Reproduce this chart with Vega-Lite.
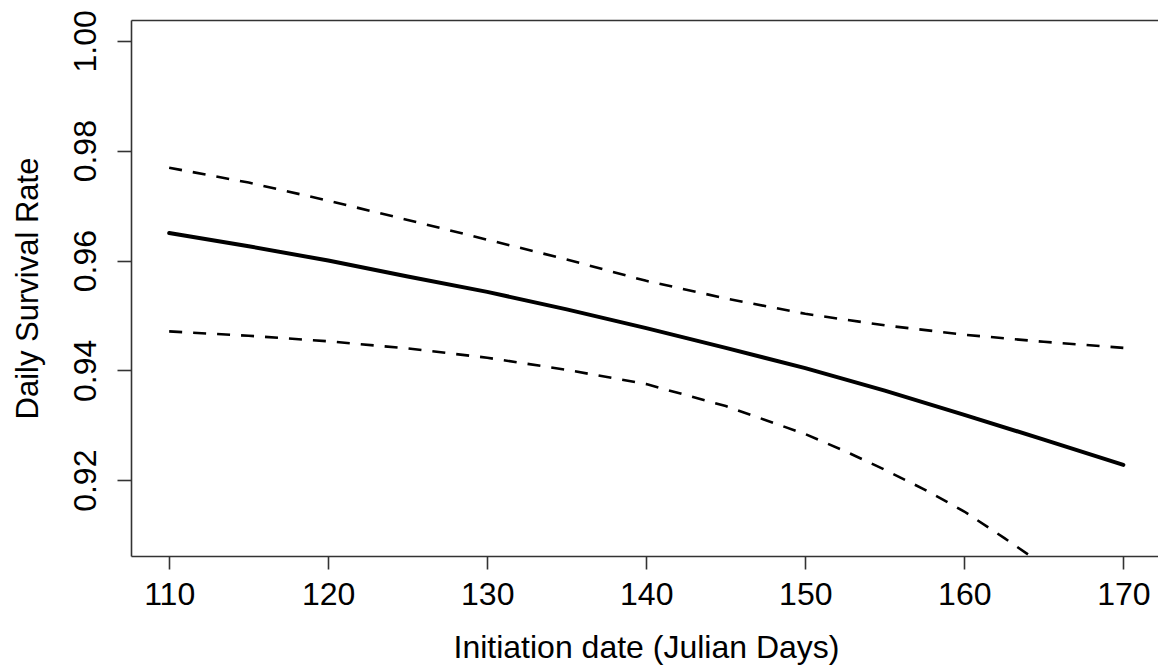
{
  "$schema": "https://vega.github.io/schema/vega-lite/v6.json",
  "width": 1027,
  "height": 536,
  "autosize": "none",
  "padding": {"left": 131, "top": 20, "right": 0, "bottom": 109},
  "background": "white",
  "config": {
    "view": {"stroke": null},
    "font": "Liberation Sans",
    "axis": {
      "domainColor": "#333333",
      "domainWidth": 1.6,
      "tickColor": "#333333",
      "tickWidth": 1.6,
      "labelColor": "black",
      "titleColor": "black",
      "labelFont": "Liberation Sans",
      "titleFont": "Liberation Sans",
      "titleFontWeight": "normal",
      "grid": false,
      "labelFlush": false,
      "labelOverlap": false,
      "labelBound": false
    }
  },
  "data": {
    "values": [
      {"day": 110, "rate": 0.9650, "series": "estimate"},
      {"day": 115, "rate": 0.9626, "series": "estimate"},
      {"day": 120, "rate": 0.9600, "series": "estimate"},
      {"day": 125, "rate": 0.9571, "series": "estimate"},
      {"day": 130, "rate": 0.9543, "series": "estimate"},
      {"day": 135, "rate": 0.9511, "series": "estimate"},
      {"day": 140, "rate": 0.9477, "series": "estimate"},
      {"day": 145, "rate": 0.9441, "series": "estimate"},
      {"day": 150, "rate": 0.9404, "series": "estimate"},
      {"day": 155, "rate": 0.9363, "series": "estimate"},
      {"day": 160, "rate": 0.9319, "series": "estimate"},
      {"day": 165, "rate": 0.9274, "series": "estimate"},
      {"day": 170, "rate": 0.9228, "series": "estimate"},
      {"day": 110, "rate": 0.9769, "series": "upper"},
      {"day": 115, "rate": 0.9742, "series": "upper"},
      {"day": 120, "rate": 0.9709, "series": "upper"},
      {"day": 125, "rate": 0.9674, "series": "upper"},
      {"day": 130, "rate": 0.9638, "series": "upper"},
      {"day": 135, "rate": 0.9602, "series": "upper"},
      {"day": 140, "rate": 0.9563, "series": "upper"},
      {"day": 145, "rate": 0.9531, "series": "upper"},
      {"day": 150, "rate": 0.9503, "series": "upper"},
      {"day": 155, "rate": 0.9482, "series": "upper"},
      {"day": 160, "rate": 0.9465, "series": "upper"},
      {"day": 165, "rate": 0.9452, "series": "upper"},
      {"day": 170, "rate": 0.9441, "series": "upper"},
      {"day": 110, "rate": 0.9471, "series": "lower"},
      {"day": 115, "rate": 0.9463, "series": "lower"},
      {"day": 120, "rate": 0.9453, "series": "lower"},
      {"day": 125, "rate": 0.9440, "series": "lower"},
      {"day": 130, "rate": 0.9423, "series": "lower"},
      {"day": 135, "rate": 0.9401, "series": "lower"},
      {"day": 140, "rate": 0.9375, "series": "lower"},
      {"day": 145, "rate": 0.9335, "series": "lower"},
      {"day": 150, "rate": 0.9284, "series": "lower"},
      {"day": 152.5, "rate": 0.9253, "series": "lower"},
      {"day": 155, "rate": 0.9219, "series": "lower"},
      {"day": 157.5, "rate": 0.9183, "series": "lower"},
      {"day": 160, "rate": 0.9143, "series": "lower"},
      {"day": 162.5, "rate": 0.9095, "series": "lower"},
      {"day": 165, "rate": 0.9045, "series": "lower"}
    ]
  },
  "layer": [
    {
      "transform": [{"filter": "datum.series === 'estimate'"}],
      "mark": {"type": "line", "color": "black", "strokeWidth": 4, "strokeCap": "round", "strokeJoin": "round", "clip": true},
      "encoding": {
        "x": {
          "field": "day", "type": "quantitative",
          "scale": {"domain": [107.6, 172.18], "nice": false, "zero": false},
          "axis": {
            "orient": "bottom",
            "values": [110, 120, 130, 140, 150, 160, 170],
            "tickSize": 13,
            "labelFontSize": 32,
            "labelBaseline": "alphabetic",
            "labelPadding": 35,
            "title": "Initiation date (Julian Days)",
            "titleFontSize": 32,
            "titleBaseline": "alphabetic",
            "titleAlign": "center",
            "titleX": 515,
            "titleY": 101
          }
        },
        "y": {
          "field": "rate", "type": "quantitative",
          "scale": {"domain": [0.9062, 1.0038], "nice": false, "zero": false},
          "axis": {
            "orient": "left",
            "values": [0.92, 0.94, 0.96, 0.98, 1.0],
            "format": ".2f",
            "tickSize": 14,
            "labelFontSize": 32,
            "labelAngle": -90,
            "labelAlign": "center",
            "labelBaseline": "alphabetic",
            "labelPadding": 22,
            "title": "Daily Survival Rate",
            "titleFontSize": 31,
            "titleAngle": -90,
            "titleAlign": "center",
            "titleBaseline": "alphabetic",
            "titleX": -93.5,
            "titleY": 268
          }
        }
      }
    },
    {
      "transform": [{"filter": "datum.series !== 'estimate'"}],
      "mark": {"type": "line", "color": "black", "strokeWidth": 2.6, "strokeDash": [13, 11], "strokeCap": "butt", "clip": true},
      "encoding": {
        "x": {
          "field": "day", "type": "quantitative",
          "axis": {"orient": "top", "labels": false, "ticks": false, "domain": true, "title": null}
        },
        "y": {"field": "rate", "type": "quantitative", "axis": null},
        "detail": {"field": "series"}
      }
    }
  ],
  "resolve": {"axis": {"x": "independent", "y": "independent"}}
}
